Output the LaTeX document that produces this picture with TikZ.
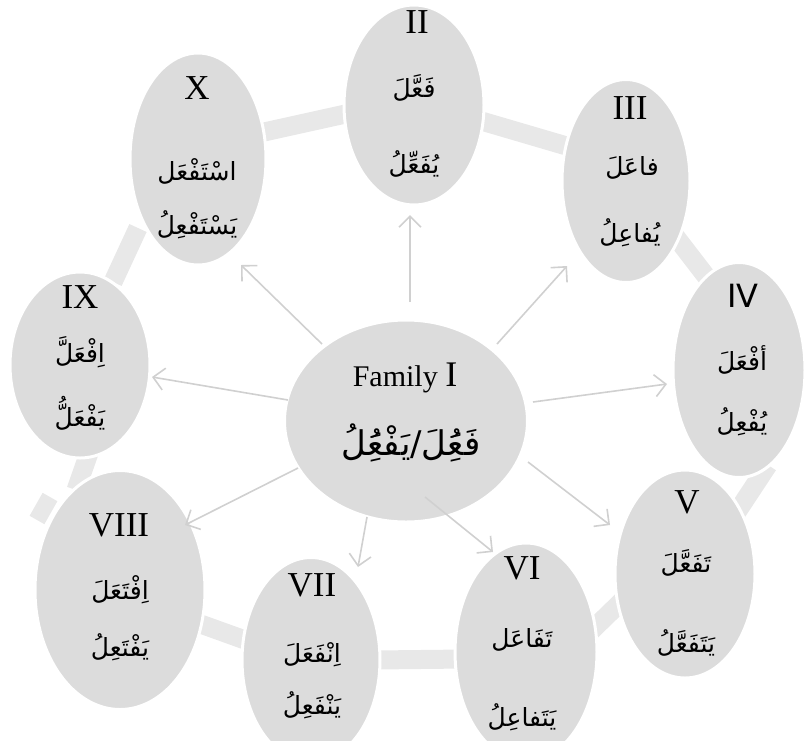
\documentclass[tikz,border=0pt]{standalone}
\usepackage{fontspec}
\setmainfont{Liberation Serif}
\newfontfamily\arabicfont[Script=Arabic]{DejaVu Sans}
\newfontfamily\numsans{DejaVu Sans}
\TeXXeTstate=1
\usetikzlibrary{arrows.meta,shapes.geometric}
\definecolor{nodegray}{HTML}{DCDCDC}
\definecolor{bandgray}{HTML}{E8E8E8}
\definecolor{arrowgray}{HTML}{D0D0D0}
\begin{document}
\begin{tikzpicture}[x=1pt,y=-1pt,
  form/.style={ellipse, fill=nodegray, draw=white, line width=3pt, inner sep=0pt, outer sep=0pt},
  band/.style={draw=bandgray, line width=19pt},
  link/.style={draw=arrowgray, line width=1.6pt, -{Straight Barb[length=11pt,width=22pt]}},
  num/.style={font=\fontsize{35}{40}\selectfont, inner sep=0pt},
  ar/.style={font=\arabicfont\fontsize{25}{30}\selectfont, inner sep=0pt}]
\useasboundingbox (0,0) rectangle (809,740);

% background bands of the cycle
\coordinate (b1a) at (255,134); \coordinate (b1b) at (350,113);
\coordinate (b2a) at (478,120); \coordinate (b2b) at (570,147);
\coordinate (b3a) at (672,232); \coordinate (b3b) at (712,284);
\coordinate (b4a) at (768,465); \coordinate (b4b) at (735,515);
\coordinate (b5a) at (625,598); \coordinate (b5b) at (590,632);
\coordinate (b6a) at (375,660); \coordinate (b6b) at (465,659);
\coordinate (b7a) at (195,622); \coordinate (b7b) at (245,640);
\coordinate (b8a) at (90,450);  \coordinate (b8b) at (76,490);
\coordinate (b8c) at (50,497);  \coordinate (b8d) at (37,520);
\coordinate (b9a) at (138,228); \coordinate (b9b) at (113,282);
\foreach \p/\q in {b1a/b1b,b2a/b2b,b3a/b3b,b4a/b4b,b5a/b5b,b6a/b6b,b7a/b7b,b8a/b8b,b9a/b9b}
  \draw[band] (\p) -- (\q);
\draw[band, line width=17pt] (b8c) -- (b8d);

% ellipses
\node[form, minimum width=243pt, minimum height=202pt] (c) at (406,421) {};
\node[form, minimum width=140pt, minimum height=200pt] (n2) at (414,105) {};
\node[form, minimum width=128pt, minimum height=203pt] (n3) at (626,181) {};
\node[form, minimum width=132pt, minimum height=215pt] (n4) at (739,370) {};
\node[form, minimum width=140pt, minimum height=208pt] (n5) at (685,574) {};
\node[form, minimum width=142pt, minimum height=218pt] (n6) at (526,652) {};
\node[form, minimum width=138pt, minimum height=205pt] (n7) at (311,660) {};
\node[form, minimum width=170pt, minimum height=239pt] (n8) at (120,590) {};
\node[form, minimum width=140pt, minimum height=186pt] (n9) at (80,365) {};
\node[form, minimum width=136pt, minimum height=212pt] (n10) at (198,159) {};

% arrows from the centre
\coordinate (s2) at (410,302);  \coordinate (t2) at (410,215);
\coordinate (s3) at (497,344);  \coordinate (t3) at (567,266);
\coordinate (s4) at (533,402);  \coordinate (t4) at (667,384);
\coordinate (s5) at (528,462);  \coordinate (t5) at (610,525);
\coordinate (s6) at (425,497);  \coordinate (t6) at (493,552);
\coordinate (s7) at (367,517);  \coordinate (t7) at (358,567);
\coordinate (s8) at (298,468);  \coordinate (t8) at (185,525);
\coordinate (s9) at (288,400);  \coordinate (t9) at (152,377);
\coordinate (s10) at (322,344); \coordinate (t10) at (241,265);
\foreach \k in {2,3,4,5,6,7,8,9,10}
  \draw[link] (s\k) -- (t\k);

% centre text
\node[inner sep=0pt] (cf) at (405,378) {\fontsize{30}{34}\selectfont Family \fontsize{36}{40}\selectfont I};
\node[inner sep=0pt, font=\arabicfont\fontsize{34}{40}\selectfont] (ca) at (411,443) {\beginR فَعَُِلَ/يَفْعَُِلُ\endR};

% II
\node[num] (n2t) at (417,22) {II};
\node[ar] (n2a) at (414,88) {\beginR فَعَّلَ\endR};
\node[ar] (n2b) at (414,164) {\beginR يُفَعِّلُ\endR};
% III
\node[num] (n3t) at (630,108) {III};
\node[ar] (n3a) at (632,168) {\beginR فاعَلَ\endR};
\node[ar] (n3b) at (630,233) {\beginR يُفاعِلُ\endR};
% IV
\node[inner sep=0pt, font=\numsans\fontsize{32}{36}\selectfont] (n4t) at (743,296) {IV};
\node[ar] (n4a) at (742,360) {\beginR أفْعَلَ\endR};
\node[ar] (n4b) at (742,422) {\beginR يُفْعِلُ\endR};
% V
\node[num] (n5t) at (687,502) {V};
\node[ar] (n5a) at (686,563) {\beginR تَفَعَّلَ\endR};
\node[ar] (n5b) at (686,643) {\beginR يَتَفَعَّلُ\endR};
% VI
\node[num] (n6t) at (522,568) {VI};
\node[ar] (n6a) at (522,640) {\beginR تَفَاعَل\endR};
\node[ar] (n6b) at (522,717) {\beginR يَتَفاعِلُ\endR};
% VII
\node[num] (n7t) at (312,585) {VII};
\node[ar] (n7a) at (312,655) {\beginR اِنْفَعَلَ\endR};
\node[ar] (n7b) at (312,705) {\beginR يَنْفَعِلُ\endR};
% VIII
\node[num] (n8t) at (119,525) {VIII};
\node[ar] (n8a) at (120,590) {\beginR اِفْتَعَلَ\endR};
\node[ar] (n8b) at (120,647) {\beginR يَفْتَعِلُ\endR};
% IX
\node[num] (n9t) at (80,297) {IX};
\node[ar] (n9a) at (80,352) {\beginR اِفْعَلَّ\endR};
\node[ar] (n9b) at (80,413) {\beginR يَفْعَلُّ\endR};
% X
\node[num] (n10t) at (197,88) {X};
\node[ar] (n10a) at (197,171) {\beginR اسْتَفْعَل\endR};
\node[ar] (n10b) at (197,225) {\beginR يَسْتَفْعِلُ\endR};
\end{tikzpicture}
\end{document}
